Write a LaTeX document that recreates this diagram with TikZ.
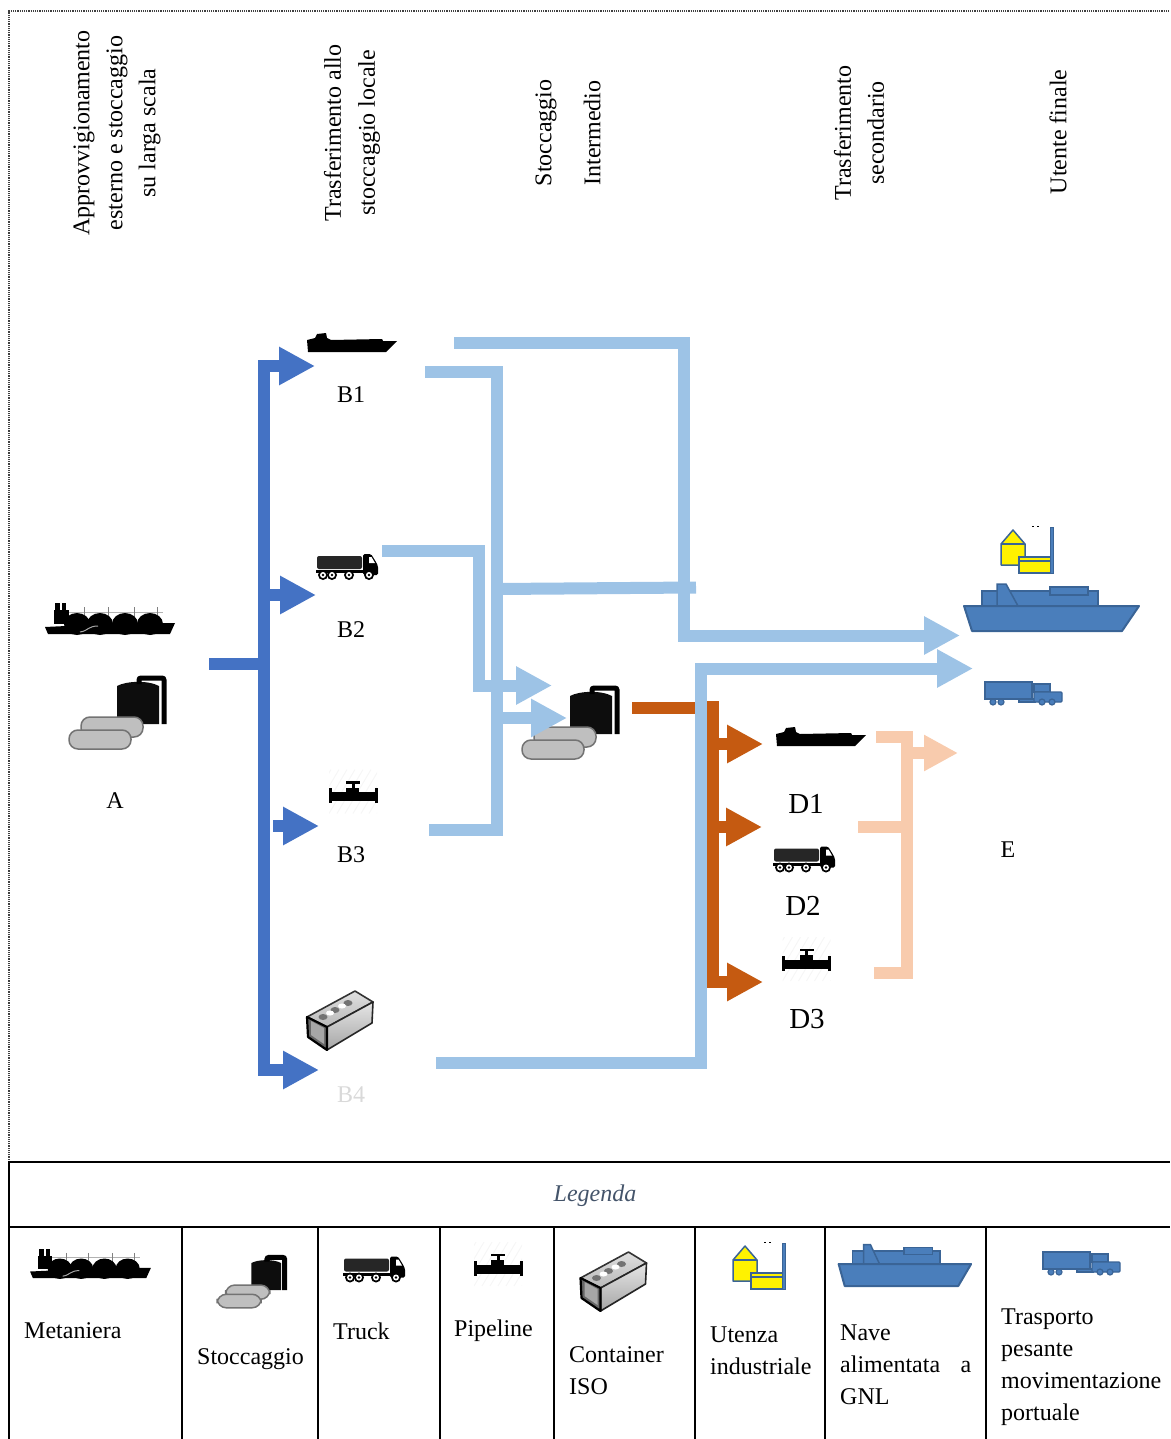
\documentclass[tikz,border=0pt]{standalone}
\usepackage{fontspec}
\setmainfont{Liberation Serif}
\usetikzlibrary{calc,arrows.meta}
\definecolor{bluA}{HTML}{4472C4}
\definecolor{celeste}{HTML}{9DC3E6}
\definecolor{arancio}{HTML}{C55A11}
\definecolor{pesca}{HTML}{F8CBAD}
\definecolor{naveblu}{HTML}{4A7EBB}
\definecolor{navebordo}{HTML}{3A6496}
\definecolor{titolo}{HTML}{44546A}
\tikzset{
  pics/metaniera/.style={code={
    \draw[color=gray!60,line width=1pt] (-43,-8) -- (53,-8);
    \foreach \px in {-26,-2,24,47} {\draw[color=gray,line width=.8pt] (\px,-13) -- (\px,0);}
    \foreach \dx in {-33,-10,15,40} {\fill (\dx,4) ellipse (13 and 11);}
    \fill (-65,7) -- (-62,14) -- (60,14) -- (65,3) -- (-44,3) -- (-44,6) -- cycle;
    \fill (-56,-10) rectangle (-41,4);
    \fill (-55,-17) rectangle (-50,-9);
    \fill (-48,-17) rectangle (-44,-9);
    \draw[color=gray!70,line width=1pt] (-30,12) .. controls (-22,11) and (-22,6) .. (-12,6);
  }},
  pics/stoccaggio/.style={code={
    \fill[color=black!95] (-1,12) -- (-1,-26) .. controls (8,-31) and (30,-32) .. (41,-26) -- (41,12) -- cycle;
    \draw[line width=5pt,rounded corners=2pt] (21,-28) -- (21,-34) -- (46,-34) -- (46,12);
    \draw[draw=black!55,fill=black!25,line width=1.5pt,rounded corners=9pt] (-37,5) rectangle (25,25);
    \draw[draw=black!55,fill=black!25,line width=1.5pt,rounded corners=9pt] (-49,18) rectangle (13,37);
  }},
  pics/camion/.style={code={
    \fill[color=black!85,rounded corners=2pt] (-30,-10) rectangle (15,3);
    \fill (-31,4) rectangle (17,7);
    \fill[rounded corners=1.5pt] (16,-12) -- (24,-12) -- (29,-4) -- (31,0) -- (31,9) -- (16,9) -- cycle;
    \fill[color=white] (22,-9) -- (24.5,-9) -- (28,-3) -- (22,-3) -- cycle;
    \foreach \wx in {-24,-15,2,22} {
      \fill (\wx,9) circle (5);
      \fill[color=white] (\wx,9) circle (3);
      \fill (\wx,9) circle (1.4);
    }
  }},
  pics/condotta/.style={code={
    \begin{scope}
      \clip (-24,-27) rectangle (24,17);
      \foreach \hx in {-48,-40,...,32} {\draw[color=gray!7,line width=1pt] (\hx,17) -- ++(26,-44);}
    \end{scope}
    \fill (-24,-4.5) rectangle (24,4.5);
    \fill (-24.5,-8.5) rectangle (-21.5,6.5);
    \fill (21.5,-8.5) rectangle (24.5,6.5);
    \fill (-7,-9) rectangle (6,-4);
    \fill (-1.5,-14) rectangle (1.5,-9);
    \fill (-7,-15.5) rectangle (7,-13);
  }},
  pics/contenitore/.style={code={
    \draw[line width=1.6pt,top color=gray!25,bottom color=gray!55,draw=black!80,line join=round] (-33,-3) -- (15,-29) -- (33,-18) -- (-13,7) -- cycle;
    \foreach \bx/\by in {-17/-3,-5/-10,8/-17} {\fill[color=black!55] (\bx,\by) ellipse (4.5 and 3);}
    \foreach \bx/\by in {-10/-7,2/-14} {\fill[color=white] (\bx,\by) ellipse (4 and 2.5);}
    \draw[line width=1.6pt,top color=gray!20,bottom color=gray!70,draw=black!85,line join=round] (-13,7) -- (33,-18) -- (32,3) -- (-13,30) -- cycle;
    \draw[line width=2.2pt,fill=black!60,draw=black,line join=round] (-33,-3) -- (-13,7) -- (-13,30) -- (-32,17) -- cycle;
    \fill[color=gray!70] (-29,1) -- (-16,8) -- (-16,24) -- (-29,15) -- cycle;
  }},
  pics/utenza/.style={code={
    \draw[line width=1.5pt,draw=navebordo,fill=yellow,line join=round] (-26,-6) -- (-14,-20) -- (-2,-6) -- (-2,15) -- (-26,15) -- cycle;
    \draw[line width=1.2pt,draw=navebordo] (-26,-6) -- (-2,-6);
    \draw[line width=1.5pt,draw=navebordo,fill=yellow] (-8,7) rectangle (25,23);
    \draw[line width=1.2pt,draw=navebordo] (-8,11) -- (25,11);
    \draw[line width=1pt,draw=navebordo,fill=naveblu] (23,-23) rectangle (26,23);
    \fill (5,-24) rectangle (6.5,-23);
    \fill (10,-24) rectangle (11.5,-23);
  }},
  pics/nave/.style={code={
    \draw[line width=1.5pt,draw=navebordo,fill=naveblu] (-69,0) -- (-69,-15) -- (47,-15) -- (47,0);
    \draw[line width=1.5pt,draw=navebordo,fill=naveblu] (-54,0) -- (-54,-22) -- (-45,-22) -- (-33,0);
    \draw[line width=1.5pt,draw=navebordo,fill=naveblu] (-1,-19) rectangle (37,-11);
    \draw[line width=2pt,draw=navebordo,fill=naveblu,line join=round] (-87,0) -- (88,0) -- (71,25) -- (-79,25) -- cycle;
  }},
  pics/trasporto/.style={code={
    \draw[line width=1.2pt,draw=navebordo,fill=naveblu] (-5,7) rectangle (11,10);
    \draw[line width=1.2pt,draw=navebordo,fill=naveblu] (-39,-10) rectangle (8,7);
    \draw[line width=1.2pt,draw=navebordo,fill=naveblu] (10,-8) rectangle (26,0);
    \draw[line width=1.2pt,draw=navebordo,fill=naveblu,rounded corners=1pt] (10,0) rectangle (38,10);
    \foreach \wx in {-31,-23,18,28} {\draw[line width=1.2pt,draw=navebordo,fill=naveblu] (\wx,10) circle (3);}
  }},
  pics/chiatta/.style={code={
    \fill (-44,10) -- (-45,-2) -- (-37,-4) -- (-35,-8) -- (-26,-9) -- (-25,-4) -- (-21,-2) -- (30,-3) -- (31,-1) -- (45,-1) -- (34,10) -- cycle;
  }}
}
\begin{document}
\begin{tikzpicture}[
  x=1pt,y=-1pt,
  every node/.style={inner sep=0pt,font=\fontsize{24}{32}\selectfont},
  head/.style={rotate=90,align=center,font=\fontsize{24}{33}\selectfont},
  headmid/.style={rotate=90,align=center,font=\fontsize{24}{34}\selectfont},
  headwide/.style={rotate=90,align=center,font=\fontsize{24}{49}\selectfont},
  cell/.style={anchor=west,align=left},
  bigletter/.style={font=\fontsize{29}{32}\selectfont},
  rule/.style={line width=2pt,color=black},
  feedA/.style={line width=12pt,color=bluA},
  tipA/.style={feedA,-{Triangle[length=36pt,width=36pt]}},
  feedB/.style={line width=12pt,color=celeste},
  tipB/.style={feedB,-{Triangle[length=36pt,width=36pt]}},
  feedC/.style={line width=12pt,color=arancio},
  tipC/.style={feedC,-{Triangle[length=36pt,width=36pt]}},
  feedD/.style={line width=12pt,color=pesca},
  tipD/.style={feedD,-{Triangle[length=34pt,width=34pt]}}
]%
  \useasboundingbox (0,0) rectangle (1170,1439);

  \draw[densely dotted,line width=1.2pt,color=black!75] (9,1162) -- (9,11) -- (1170,11);

  \node[head] (hA) at (117,133) {Approvvigionamento\\esterno e stoccaggio\\su larga scala};
  \node[headmid] (hB) at (352,133) {Trasferimento allo\\stoccaggio locale};
  \node[headwide] (hC) at (568,133) {Stoccaggio\\Intermedio};
  \node[head] (hD) at (859,133) {Trasferimento\\secondario};
  \node[head] (hE) at (1058,132) {Utente finale};

  \path (110,620) pic {metaniera};
  \path (118,712) pic {stoccaggio};
  \path (352,342) pic {chiatta};
  \path (347,566) pic {camion};
  \path (353,796.5) pic {condotta};
  \path (340,1020) pic {contenitore};
  \path (571,722) pic {stoccaggio};
  \path (821,736) pic {chiatta};
  \path (804,858.5) pic {camion};
  \path (806.5,964) pic {condotta};
  \path (1027,550) pic {utenza};
  \path (1051,606) pic {nave};
  \path (1024,692) pic {trasporto};

  \node (lA) at (115,801) {A};
  \node (lB1) at (351,395) {B1};
  \node (lB2) at (351,630) {B2};
  \node (lB3) at (351,855) {B3};
  \node[color=black!15] (lB4) at (351,1095) {B4};
  \node[bigletter] (lD1) at (806,804) {D1};
  \node[bigletter] (lD2) at (803,906) {D2};
  \node[bigletter] (lD3) at (807,1019) {D3};
  \node (lE) at (1008,850) {E};

  \coordinate (srcA) at (209,664);
  \coordinate (busA) at (264,664);
  \coordinate (inB1) at (315,366);
  \coordinate (inB2) at (316,595);
  \coordinate (outB3) at (273,826);
  \coordinate (inB3) at (319,826);
  \coordinate (inB4) at (319,1070);

  \draw[feedA] (srcA) -- (busA);
  \draw[tipA] (busA) |- (inB1);
  \draw[tipA] (busA) |- (inB4);
  \draw[tipA] (busA |- inB2) -- (inB2);
  \draw[tipA] (outB3) -- (inB3);

  \coordinate (srcC) at (632,708);
  \coordinate (busC) at (713,701);
  \coordinate (inD1) at (763,744);
  \coordinate (inD2) at (762,827);
  \coordinate (inD3) at (763,982);

  \draw[feedC] (srcC) -- (busC |- srcC);
  \draw[tipC] (busC) |- (inD3);
  \draw[tipC] (busC |- inD1) -- (inD1);
  \draw[tipC] (busC |- inD2) -- (inD2);

  \coordinate (outB1a) at (454,342.5);
  \coordinate (cornerA) at (684,342.5);
  \coordinate (inNave) at (960,635.5);
  \coordinate (outB1b) at (425,372);
  \coordinate (riser) at (497,372);
  \coordinate (outB3b) at (429,830);
  \coordinate (stubS) at (497,589);
  \coordinate (stubN) at (696,587.5);
  \coordinate (inStA) at (552,685.5);
  \coordinate (inStB) at (567,718);
  \coordinate (outB2) at (382,551);
  \coordinate (dropB2) at (479,551);
  \coordinate (outB4) at (436,1063);
  \coordinate (dropB4) at (701,1063);
  \coordinate (inCamion) at (973,668.5);

  \draw[tipB] (outB1a) -- (cornerA) |- (inNave);
  \draw[feedB] (outB1b) -- (riser) |- (outB3b);
  \draw[feedB] (stubS) -- (stubN);
  \draw[tipB] (riser |- inStB) -- (inStB);
  \draw[tipB] (outB2) -- (dropB2) |- (inStA);
  \draw[tipB] (outB4) -- (dropB4) |- (inCamion);

  \coordinate (outD1) at (876,737);
  \coordinate (busD) at (906.5,737);
  \coordinate (outD2) at (858,826.5);
  \coordinate (outD3) at (874,972.5);
  \coordinate (inE) at (958,753);

  \draw[feedD] (outD1) -- (busD) |- (outD3);
  \draw[feedD] (outD2) -- (busD |- outD2);
  \draw[tipD] (busD |- inE) -- (inE);

  \draw[rule] (9,1439) -- (9,1162) -- (1170,1162);
  \draw[rule] (9,1227) -- (1170,1227);
  \foreach \cx in {182,318,440,554,695,825,986} {
    \draw[rule] (\cx,1227) -- (\cx,1439);
  }

  \node[color=titolo] (legenda) at (595,1196) {\itshape Legenda};

  \path (90.5,1265) pic[scale=.93] {metaniera};
  \path (252,1281.5) pic[scale=.71] {stoccaggio};
  \path (374,1268.5) pic {camion};
  \path (498,1269) pic {condotta};
  \path (613.5,1281) pic {contenitore};
  \path (759,1266) pic {utenza};
  \path (904.5,1264) pic[xscale=.757,yscale=.88] {nave};
  \path (1082,1262) pic {trasporto};

  \node[cell] (c1) at (24,1331) {Metaniera};
  \node[cell] (c2) at (197,1359) {Stoccaggio};
  \node[cell] (c3) at (333,1331) {Truck};
  \node[cell] (c4) at (454,1331) {Pipeline};
  \node[cell] (c5) at (569,1371) {Container\\ISO};
  \node[cell] (c6) at (710,1351) {Utenza\\industriale};
  \node[cell] (c7) at (840,1365) {Nave\\\makebox[131pt][s]{alimentata a}\\GNL};
  \node[cell] (c8) at (1001,1367) {Trasporto\\pesante\\movimentazione\\portuale};
\end{tikzpicture}
\end{document}
